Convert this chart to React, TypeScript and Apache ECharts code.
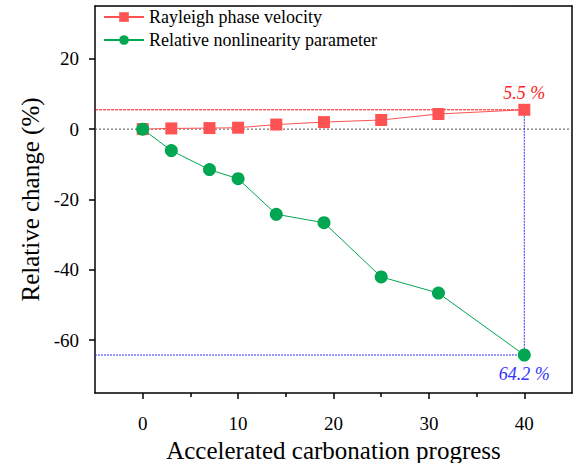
import React, { useEffect, useRef } from "react";
import * as echarts from "echarts";

const progress = [0, 3, 7, 10, 14, 19, 25, 31, 40];
const rayleigh = [0, 0.2, 0.3, 0.4, 1.3, 2.0, 2.6, 4.3, 5.5];
const nonlinearity = [0, -6.1, -11.5, -14.1, -24.2, -26.6, -42.0, -46.6, -64.2];
const xMajorTicks = [0, 10, 20, 30, 40];
const xMinorTicks = [5, 15, 25, 35];
const yTicks = [20, 0, -20, -40, -60];

const RED = "#FF5252";
const GREEN = "#00A651";
const BLUE = "#3333FF";
const FONT = "Liberation Serif";

const richText = (size: number, color: string, italic = false) => ({
  a: {
    fontFamily: FONT,
    fontSize: size,
    color,
    fontStyle: italic ? "italic" : "normal",
    fontWeight: "normal",
  },
});

export default function App() {
  const ref = useRef<HTMLDivElement>(null);
  useEffect(() => {
    const chart = echarts.init(ref.current!, null, { renderer: "svg" });
    const lastX = progress[progress.length - 1];
    const lastR = rayleigh[rayleigh.length - 1];
    const lastN = nonlinearity[nonlinearity.length - 1];
    const X_MIN = -5;
    const X_MAX = 45;
    const redData = progress.map((x, i) =>
      i === progress.length - 1
        ? {
            value: [x, rayleigh[i]],
            label: {
              show: true,
              position: "top",
              distance: 2,
              formatter: `{a|${lastR.toFixed(1)} %}`,
              rich: richText(18, "#FF2020", true),
            },
          }
        : { value: [x, rayleigh[i]] }
    );
    const greenData = progress.map((x, i) =>
      i === progress.length - 1
        ? {
            value: [x, nonlinearity[i]],
            label: {
              show: true,
              position: "bottom",
              distance: 3,
              formatter: `{a|${Math.abs(lastN).toFixed(1)} %}`,
              rich: richText(18, BLUE, true),
            },
          }
        : { value: [x, nonlinearity[i]] }
    );
    const refLine = (name: string, pts: number[][], color: string, dash: number[]) => ({
      type: "line",
      name,
      data: pts,
      symbol: "none",
      silent: true,
      itemStyle: { color },
      lineStyle: { color, width: 1, type: dash },
      z: 1,
    });
    const frameAxis = { show: true, onZero: false, lineStyle: { color: "#000", width: 1.5 } };
    const tickLabel = (vals: number[], margin: number) => ({
      customValues: vals,
      margin,
      formatter: (v: number) => `{a|${v}}`,
      rich: richText(19, "#000"),
    });
    chart.setOption({
      animation: false,
      textStyle: { fontFamily: FONT },
      grid: { left: 95, right: 4, top: 6, bottom: 70, containLabel: false, outerBoundsMode: "none" },
      legend: {
        left: 98,
        top: 3,
        orient: "vertical",
        itemWidth: 40,
        itemHeight: 12,
        itemGap: 5,
        textStyle: { fontFamily: FONT, fontSize: 18, color: "#000" },
        data: ["Rayleigh phase velocity", "Relative nonlinearity parameter"],
      },
      xAxis: [
        {
          type: "value",
          min: X_MIN,
          max: X_MAX,
          position: "bottom",
          name: "{a|Accelerated carbonation progress}",
          nameLocation: "middle",
          nameGap: 43,
          nameTextStyle: { rich: richText(25, "#000") },
          axisLine: frameAxis,
          axisTick: {
            show: true,
            customValues: xMajorTicks,
            length: 6,
            lineStyle: { color: "#000", width: 1.5 },
          },
          axisLabel: tickLabel(xMajorTicks, 21),
          splitLine: { show: false },
        },
        {
          type: "value",
          min: X_MIN,
          max: X_MAX,
          position: "bottom",
          axisLine: { show: false, onZero: false },
          axisTick: {
            show: true,
            customValues: xMinorTicks,
            length: 4,
            lineStyle: { color: "#000", width: 1.5 },
          },
          axisLabel: { show: false },
          splitLine: { show: false },
        },
        {
          type: "value",
          min: X_MIN,
          max: X_MAX,
          position: "top",
          axisLine: frameAxis,
          axisTick: { show: false },
          axisLabel: { show: false },
          splitLine: { show: false },
        },
      ],
      yAxis: [
        {
          type: "value",
          min: -75,
          max: 35,
          position: "left",
          name: "{a|Relative change (%)}",
          nameLocation: "middle",
          nameGap: 45,
          nameTextStyle: { rich: richText(25, "#000") },
          axisLine: frameAxis,
          axisTick: {
            show: true,
            customValues: yTicks,
            length: 6,
            lineStyle: { color: "#000", width: 1.5 },
          },
          axisLabel: tickLabel(yTicks, 16),
          splitLine: { show: false },
        },
        {
          type: "value",
          min: -75,
          max: 35,
          position: "right",
          axisLine: frameAxis,
          axisTick: { show: false },
          axisLabel: { show: false },
          splitLine: { show: false },
        },
      ],
      series: [
        refLine("ref0", [[X_MIN, 0], [X_MAX, 0]], "#555", [2, 2]),
        refLine("refR", [[X_MIN, lastR], [lastX, lastR]], "#FF1010", [3, 1]),
        refLine("refN", [[X_MIN, lastN], [lastX, lastN]], BLUE, [2, 1]),
        refLine("refV", [[lastX, lastR], [lastX, lastN]], BLUE, [2, 1]),
        {
          type: "line",
          name: "Rayleigh phase velocity",
          data: redData,
          symbol: "rect",
          symbolSize: 12,
          itemStyle: { color: RED },
          lineStyle: { color: RED, width: 1 },
          z: 3,
        },
        {
          type: "line",
          name: "Relative nonlinearity parameter",
          data: greenData,
          symbol: "circle",
          symbolSize: 13,
          itemStyle: { color: GREEN },
          lineStyle: { color: GREEN, width: 1 },
          z: 4,
        },
      ],
    });
    return () => chart.dispose();
  }, []);
  return <div ref={ref} style={{ width: 576, height: 463, position: "absolute", left: 0, top: 0 }} />;
}
